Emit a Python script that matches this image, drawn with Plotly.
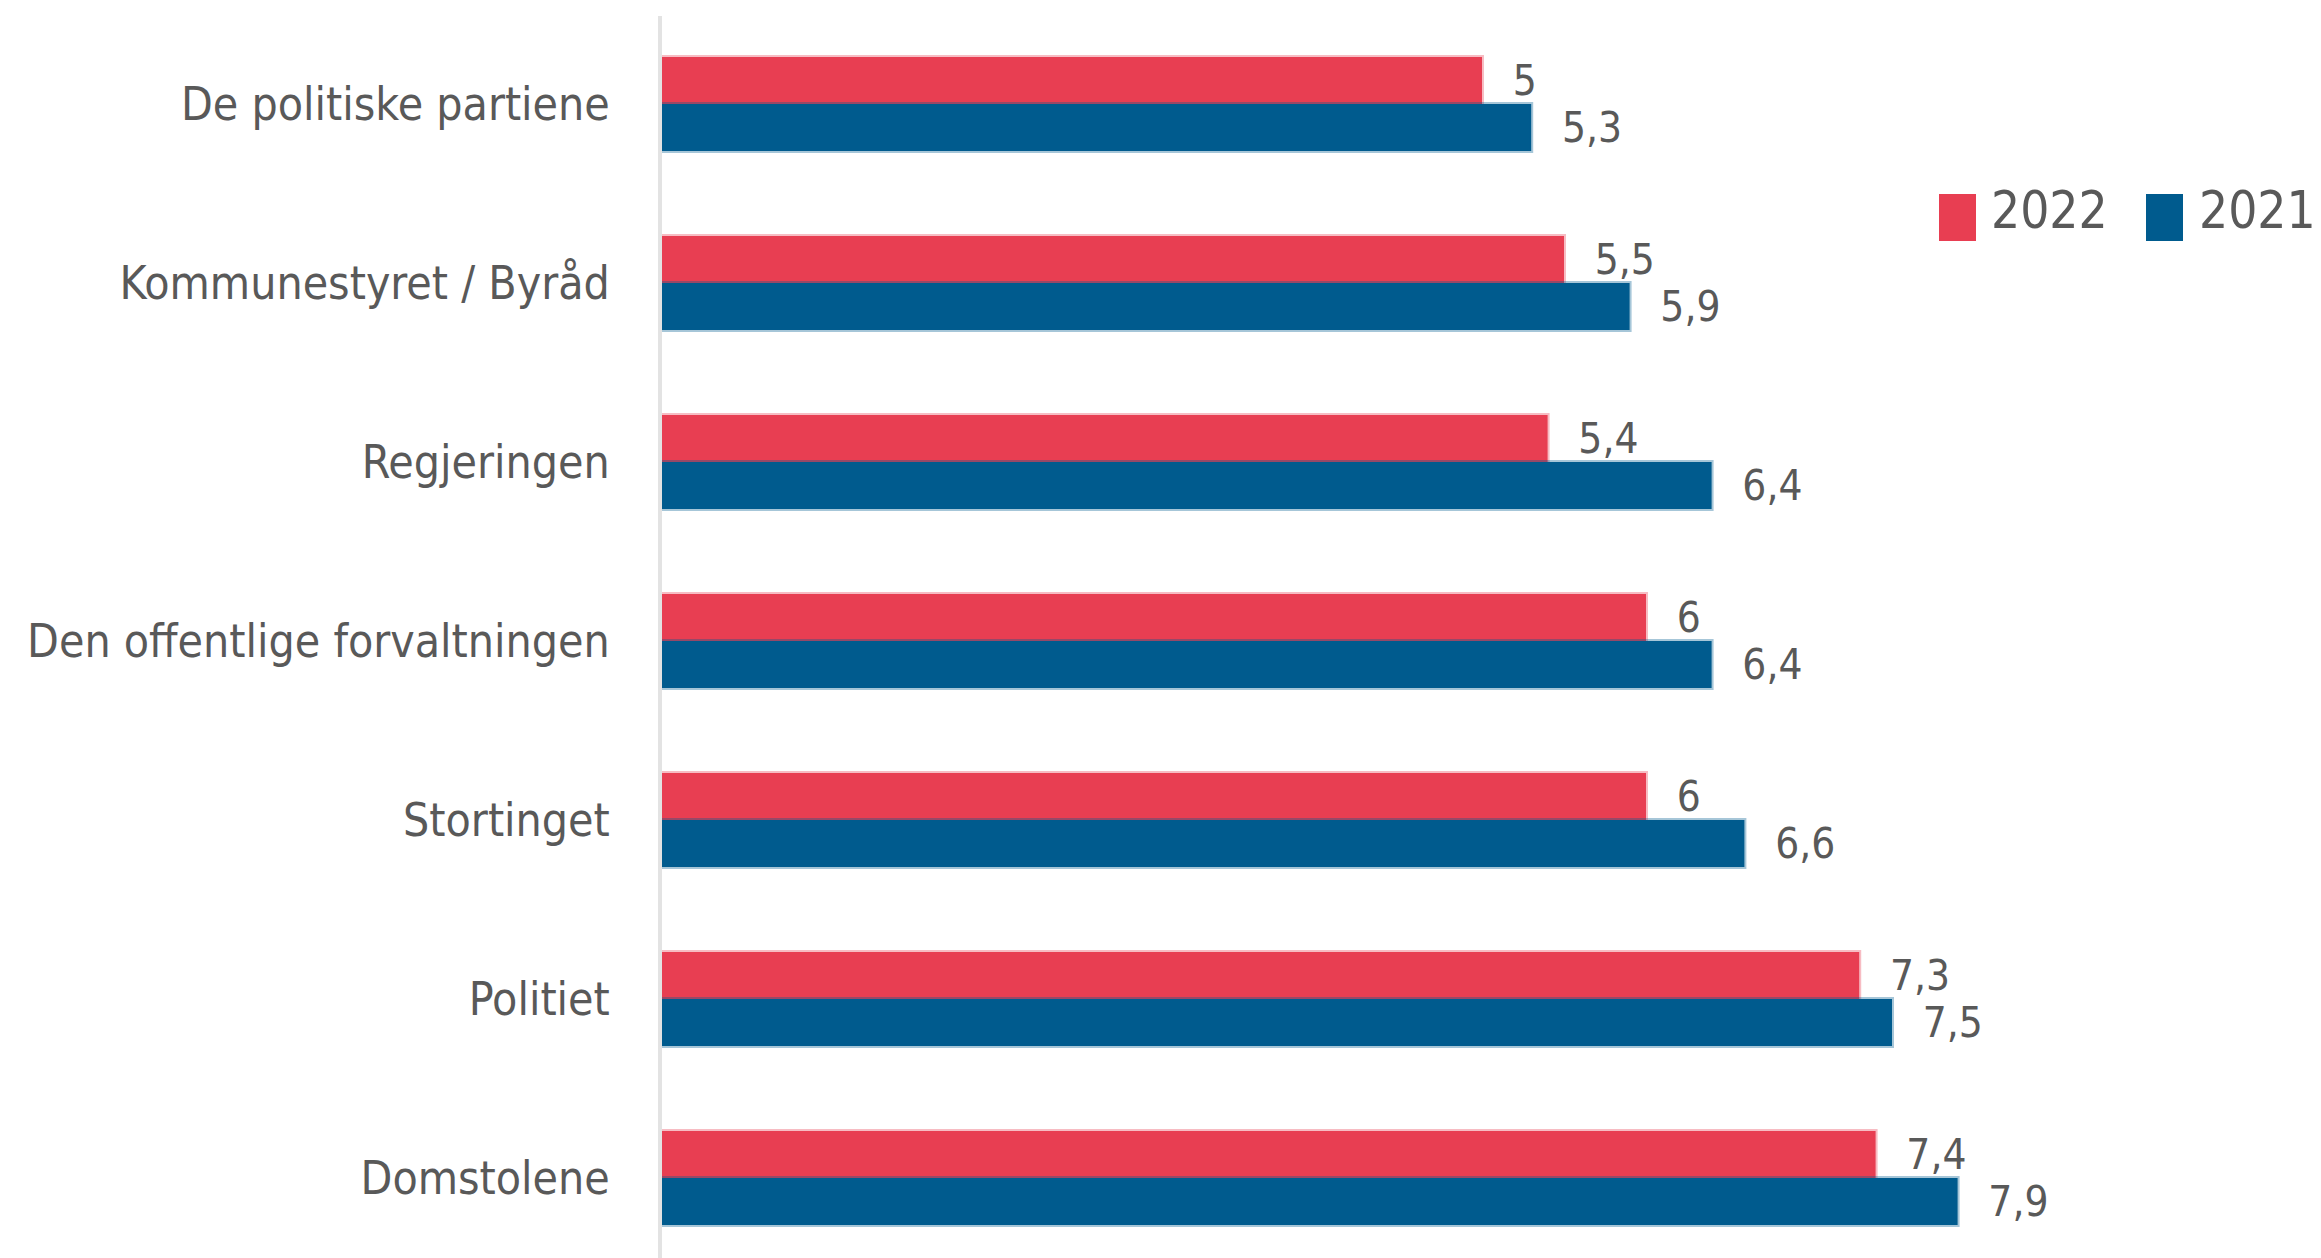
import plotly.graph_objects as go

categories = ["De politiske partiene", "Kommunestyret / Byråd", "Regjeringen",
              "Den offentlige forvaltningen", "Stortinget", "Politiet", "Domstolene"]
values_2022 = [5, 5.5, 5.4, 6, 6, 7.3, 7.4]
values_2021 = [5.3, 5.9, 6.4, 6.4, 6.6, 7.5, 7.9]
series_names = ["2022", "2021"]

RED = "#E83E52"
BLUE = "#005B8E"
GRAY = "#595959"
FONT = "Liberation Sans Narrow, Arial Narrow, DejaVu Sans Condensed, sans-serif"

OFF = 8  # default page body margin
W, H = 2321 - OFF, 1258 - OFF
L, R, T, B = 662 - OFF, 19, 16 - OFF, 0


def fmt(v):
    return f"{v:g}".replace(".", ",")


fig = go.Figure()
for name, vals, col, edge in [
    (series_names[0], values_2022, RED, "rgba(232,62,82,0.35)"),
    (series_names[1], values_2021, BLUE, "rgba(0,91,142,0.35)"),
]:
    fig.add_trace(go.Bar(
        y=categories, x=vals, orientation="h", name=name,
        marker=dict(color=col, line=dict(color=edge, width=4)),
        text=[fmt(v) for v in vals],
        texttemplate="\u00a0\u00a0\u200a%{text}",
        textposition="outside",
        constraintext="none",
        cliponaxis=False,
        textfont=dict(family=FONT, size=42, color=GRAY),
        showlegend=False,
    ))

fig.update_layout(
    width=W, height=H,
    margin=dict(l=L, r=R, t=T, b=B, pad=0, autoexpand=False),
    paper_bgcolor="white", plot_bgcolor="white",
    barmode="group", bargap=0.475, bargroupgap=0,
    font=dict(family=FONT, color=GRAY),
    xaxis=dict(range=[0, 10], visible=False, showgrid=False, zeroline=False,
               automargin=False),
    yaxis=dict(
        type="category", categoryorder="array", categoryarray=categories,
        range=[6.447, -0.492], automargin=False,
        showline=True, linecolor="#e3e3e3", linewidth=4,
        showgrid=False, zeroline=False, ticks="",
        ticklabelstandoff=39,
        tickfont=dict(family=FONT, size=46, color=GRAY),
    ),
)

# Manual legend (large squares); positions given in page pixels of the reference
plot_w = W - L - R
plot_h = H - T - B


def px(x):
    return (x - OFF - L) / plot_w


def py(y):
    return 1 - (y - OFF - T) / plot_h


legend_items = [(series_names[0], RED, 1939, 1976, 1990),
                (series_names[1], BLUE, 2146, 2183, 2198)]
for name, col, x0, x1, tx in legend_items:
    fig.add_shape(type="rect", xref="paper", yref="paper",
                  x0=px(x0), x1=px(x1), y0=py(241), y1=py(194),
                  fillcolor=col, line=dict(width=0))
    fig.add_annotation(xref="paper", yref="paper", x=px(tx), y=py(210),
                       xanchor="left", yanchor="middle", showarrow=False,
                       text=name, font=dict(family=FONT, size=51, color=GRAY),
                       borderpad=0)

fig.write_html("out.html")
